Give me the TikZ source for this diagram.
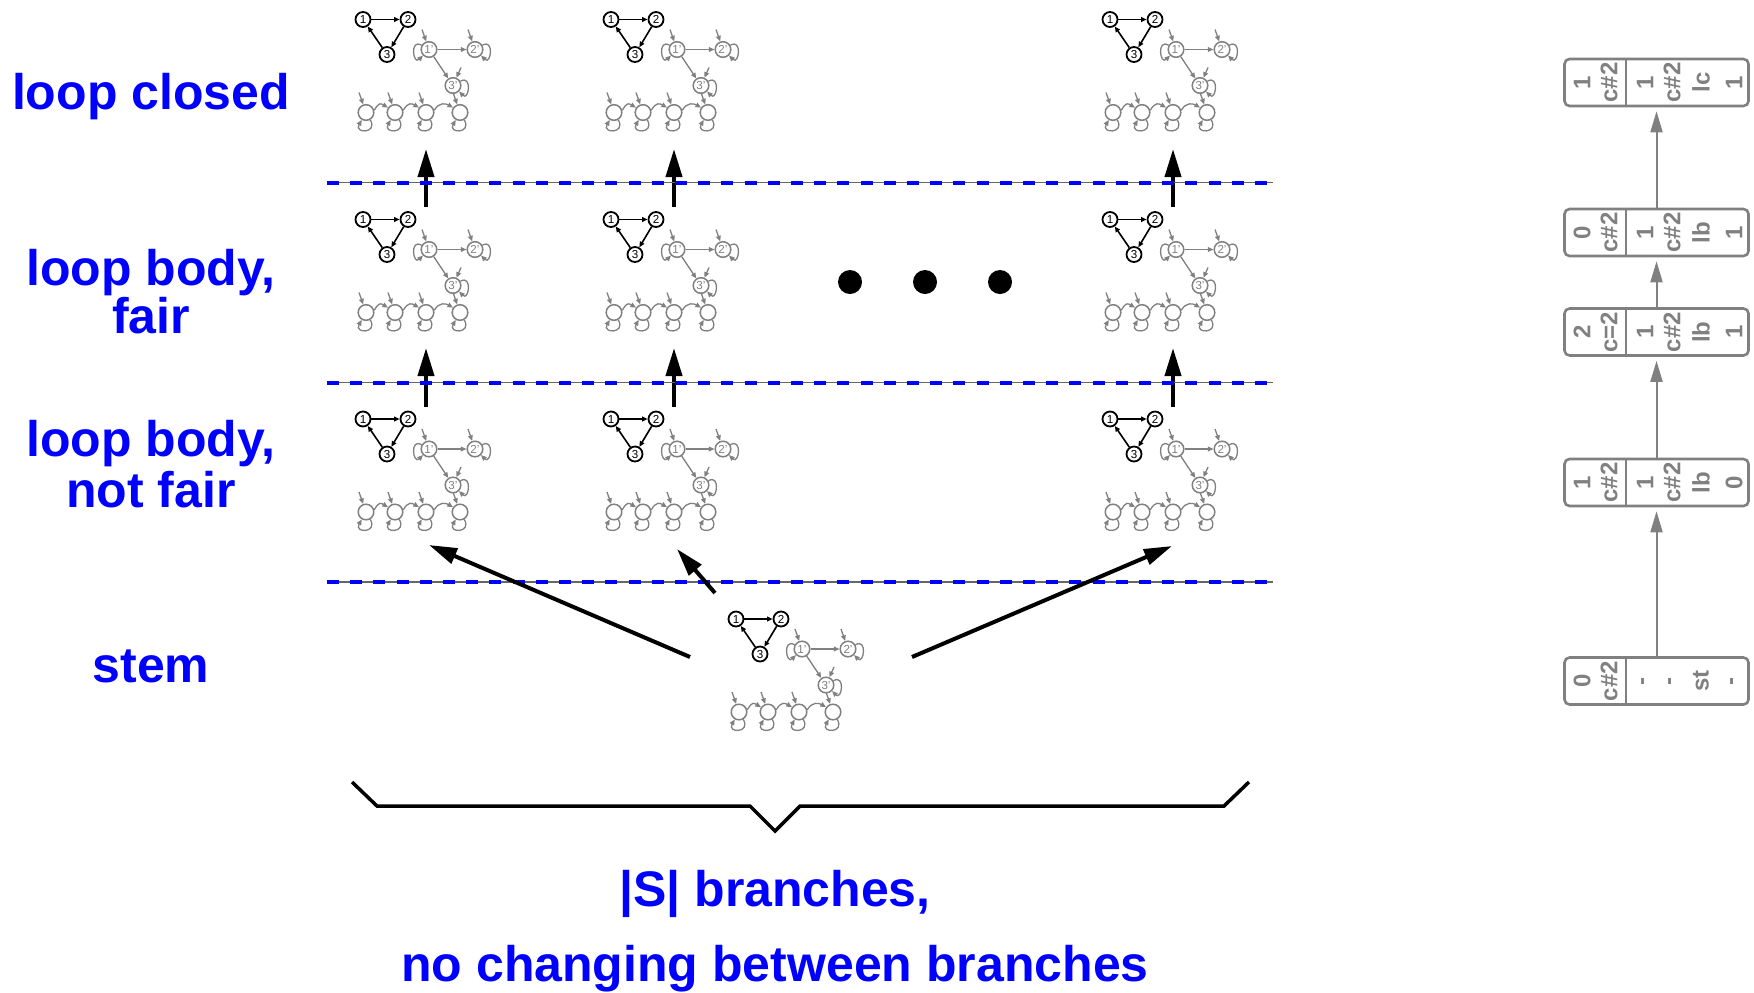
\documentclass[tikz,border=0pt]{standalone}
\usepackage{fontspec}
\setmainfont{Liberation Sans}
\usetikzlibrary{arrows.meta}

\tikzset{
  lab/.style={text=blue, font=\fontsize{25}{30}\selectfont\bfseries, anchor=base, inner sep=0pt},
  sepline/.style={draw=black!60, line width=0.8pt},
  sepdash/.style={draw=blue, line width=2pt, dash pattern=on 6pt off 5.6pt},
  bigarrow/.style={-{Triangle[length=14pt,width=8pt]}, line width=2pt, draw=black},
  bn/.style={circle, draw=black, line width=0.9pt, inner sep=0pt, minimum size=7.5pt,
             font=\fontsize{5.8}{6}\selectfont},
  gn/.style={circle, draw=black!50, text=black!50, line width=0.75pt, inner sep=0pt,
             minimum size=7.8pt, font=\fontsize{5.8}{6}\selectfont},
  barr/.style={-{Triangle[length=2.8pt,width=2.4pt]}, line width=0.8pt, draw=black},
  garr/.style={-{Triangle[length=2.8pt,width=2.4pt]}, line width=0.65pt, draw=black!50},
  stbox/.style={draw=black!50, line width=1.3pt, rounded corners=2.5pt,
                minimum width=92pt, minimum height=23.5pt, inner sep=0pt},
  stxt/.style={text=black!50, font=\fontsize{12}{14}\selectfont\bfseries, rotate=90, inner sep=0pt},
  starr/.style={-{Triangle[length=10.5pt,width=6pt]}, line width=1pt, draw=black!50, shorten >=2pt},
  bigdot/.style={circle, fill=black, minimum size=12pt, inner sep=0pt},
}

% one cluster of the three small automata, anchored at state 1
\newcommand\drawcluster[3]{%
  \begin{scope}[shift={(#2,#3)}]
    \node[bn] (#1a1) at (0,0) {1};
    \node[bn] (#1a2) at (45,0) {2};
    \node[bn] (#1a3) at (24,35) {3};
    \draw[barr] (#1a1) -- (#1a2);
    \draw[barr] (#1a2) -- (#1a3);
    \draw[barr] (#1a3) -- (#1a1);
    \node[gn] (#1b1) at (66,30) {1'};
    \node[gn] (#1b2) at (112,30) {2'};
    \node[gn] (#1b3) at (90,66) {3'};
    \draw[garr] (#1b1) -- (#1b2);
    \draw[garr] (#1b1) -- (#1b3);
    \draw[garr] (#1b1.150) .. controls +(150:7pt) and +(225:7pt) .. (#1b1.225);
    \draw[garr] (#1b2.30) .. controls +(30:7pt) and +(-45:7pt) .. (#1b2.-45);
    \draw[garr] (#1b3.30) .. controls +(30:7pt) and +(-45:7pt) .. (#1b3.-45);
    \coordinate (#1i1) at (59,10);
    \coordinate (#1i2) at (105,10);
    \coordinate (#1i3) at (98,48);
    \draw[garr] (#1i1) -- (#1b1);
    \draw[garr] (#1i2) -- (#1b2);
    \draw[garr] (#1i3) -- (#1b3);
    \foreach \k/\cx in {1/3,2/32,3/63,4/97} {
      \node[gn] (#1c\k) at (\cx,93) {};
      \coordinate (#1j\k) at (\cx-7,73);
      \draw[garr] (#1j\k) -- (#1c\k);
      \draw[garr] (#1c\k.300) .. controls +(300:8pt) and +(240:8pt) .. (#1c\k.240);
    }
    \draw[garr] (#1c1.15) .. controls +(60:5pt) and +(150:4pt) .. (#1c2.145);
    \draw[garr] (#1c2.15) .. controls +(60:5pt) and +(150:4pt) .. (#1c3.145);
    \draw[garr] (#1c3.15) .. controls +(60:5pt) and +(150:4pt) .. (#1c4.145);
  \end{scope}}

% a state record: name, y, then the six entries
\newcommand\statebox[8]{%
  \node[stbox] (#1) at (1656.5,#2) {};
  \coordinate (#1d) at (1626,#2);
  \draw[draw=black!50, line width=1.3pt] (#1.north -| #1d) -- (#1.south -| #1d);
  \node[stxt] (#1t1) at (1582,#2) {#3};
  \node[stxt] (#1t2) at (1609,#2) {#4};
  \node[stxt] (#1t3) at (1645,#2) {#5};
  \node[stxt] (#1t4) at (1672,#2) {#6};
  \node[stxt] (#1t5) at (1701,#2) {#7};
  \node[stxt] (#1t6) at (1734,#2) {#8};
}

\begin{document}
\begin{tikzpicture}[x=0.5pt, y=-0.5pt]
\useasboundingbox (0,0) rectangle (1754,992);

% row labels
\node[lab] (tlc)  at (151,109) {loop closed};
\node[lab] (tlf1) at (151,285) {loop body,};
\node[lab] (tlf2) at (151,333) {fair};
\node[lab] (tln1) at (151,456) {loop body,};
\node[lab] (tln2) at (151,507) {not fair};
\node[lab] (tst)  at (151,682) {stem};
\node[lab] (tbr1) at (775,906) {|S| branches,};
\node[lab] (tbr2) at (775,981) {no changing between branches};

% automata clusters
\drawcluster{k11}{363}{19.5}
\drawcluster{k12}{611}{19.5}
\drawcluster{k13}{1110}{19.5}
\drawcluster{k21}{363}{219.5}
\drawcluster{k22}{611}{219.5}
\drawcluster{k23}{1110}{219.5}
\drawcluster{k31}{363}{419}
\drawcluster{k32}{611}{419}
\drawcluster{k33}{1110}{419}
\drawcluster{ks}{736}{619}

% upward steps between the phases
\foreach \n/\ax in {1/426,2/674,3/1173} {
  \coordinate (up\n s) at (\ax,207);
  \coordinate (up\n e) at (\ax,149);
  \coordinate (um\n s) at (\ax,407);
  \coordinate (um\n e) at (\ax,348);
  \draw[bigarrow] (up\n s) -- (up\n e);
  \draw[bigarrow] (um\n s) -- (um\n e);
}

% phase separators
\foreach \n/\ly in {1/182.5,2/382.5,3/582} {
  \coordinate (sep\n a) at (327,\ly);
  \coordinate (sep\n b) at (1273,\ly);
  \draw[sepline] (sep\n a) -- (sep\n b);
  \draw[sepdash] (sep\n a) -- (sep\n b);
}

% branching out of the stem
\coordinate (bl s) at (690,657);
\coordinate (bl e) at (429,545);
\coordinate (bm s) at (715,593);
\coordinate (bm e) at (677,549);
\coordinate (br s) at (912,657);
\coordinate (br e) at (1172,546);
\draw[bigarrow] (bl s) -- (bl e);
\draw[bigarrow] (bm s) -- (bm e);
\draw[bigarrow] (br s) -- (br e);

% ellipsis
\node[bigdot] (d1) at (850,282) {};
\node[bigdot] (d2) at (925,282) {};
\node[bigdot] (d3) at (1000,282) {};

% brace under the branches
\draw[line width=1.75pt, miter limit=10]
  (352,782) -- (377,806) -- (750,806) -- (775,831) -- (800,806) -- (1224,806) -- (1249,782);

% state records
\statebox{s1}{82.5}{1}{c\#2}{1}{c\#2}{lc}{1}
\statebox{s2}{232.5}{0}{c\#2}{1}{c\#2}{lb}{1}
\statebox{s3}{332}{2}{c=2}{1}{c\#2}{lb}{1}
\statebox{s4}{482.5}{1}{c\#2}{1}{c\#2}{lb}{0}
\statebox{s5}{681}{0}{c\#2}{-}{-}{st}{-}
\draw[starr] (s5.north) -- (s4.south);
\draw[starr] (s4.north) -- (s3.south);
\draw[starr] (s3.north) -- (s2.south);
\draw[starr] (s2.north) -- (s1.south);

\end{tikzpicture}
\end{document}
